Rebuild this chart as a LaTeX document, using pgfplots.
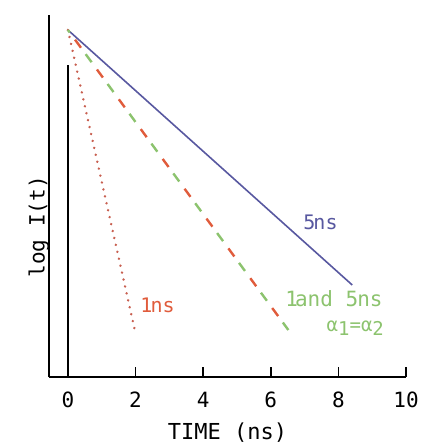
\documentclass[border=0pt]{standalone}
\usepackage{pgfplots}
\pgfplotsset{compat=1.18}
\usetikzlibrary{calc}
\usepackage{fontspec}
\setmainfont{DejaVu Sans Mono}
\definecolor{cblue}{RGB}{88,88,160}
\definecolor{cred}{RGB}{224,92,60}
\definecolor{cdot}{RGB}{200,95,80}
\definecolor{cgreen}{RGB}{140,195,110}
\begin{document}
\begin{tikzpicture}
\useasboundingbox (-49pt,-67pt) rectangle (373pt,377pt);
\begin{axis}[
  scale only axis,
  width=357pt, height=362pt,
  xmin=-0.56, xmax=10, ymin=0, ymax=362,
  axis x line*=bottom, axis y line*=left,
  axis line style={-, line width=1.6pt, black},
  xtick={0,2,4,6,8,10}, ytick=\empty,
  tick align=inside, major tick length=10pt,
  tick style={line width=1.6pt, black},
  /pgf/number format/assume math mode=true,
  xticklabel style={anchor=center, yshift=-23pt, font=\fontsize{21}{24}\selectfont},
  xlabel={TIME (ns)},
  xlabel style={at={(rel axis cs:0.5,0)}, anchor=center, yshift=-56pt, font=\fontsize{22}{26}\selectfont},
  clip=false,
]
\addplot[black, line width=2.2pt] coordinates {(0,0) (0,312)};
\addplot[cblue, line width=1.6pt] coordinates {(0,347) (8.41,92)};
\addplot[cdot, line width=2.6pt, line cap=round, dash pattern=on 0.1pt off 7pt] coordinates {(0,347) (1.99,45)};
\addplot[cred, line width=2.4pt, dash pattern=on 10pt off 27pt, dash phase=25pt] coordinates {(0,347) (6.52,47)};
\addplot[cgreen, line width=2.4pt, dash pattern=on 10pt off 27pt, dash phase=7pt] coordinates {(0,347) (6.52,47)};
\node[cblue, font=\fontsize{20}{24}\selectfont] at (axis cs:7.47,155) {5\kern-2pt ns};
\node[cgreen, font=\fontsize{21}{24}\selectfont] at (axis cs:7.87,78) {1\kern-3pt and 5\kern-1pt ns};
\node[cgreen, font=\fontsize{19}{24}\selectfont] at (axis cs:8.5,49) {α\raisebox{-0.35ex}{1}=α\raisebox{-0.35ex}{2}};
\node[cred, font=\fontsize{20}{24}\selectfont] at (axis cs:2.65,72) {1\kern-2pt ns};
\node[rotate=90, font=\fontsize{21}{24}\selectfont] at ($(rel axis cs:0,0.415)+(-29pt,0)$) {log I(t)};
\end{axis}
\end{tikzpicture}
\end{document}
